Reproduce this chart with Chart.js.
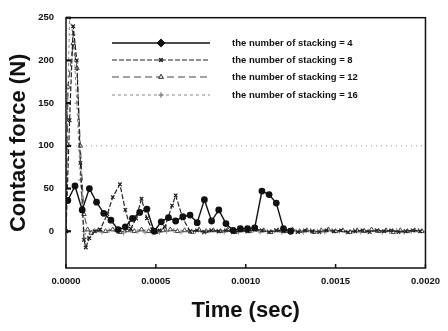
<!DOCTYPE html>
<html>
<head>
<meta charset="utf-8">
<script src="https://cdn.jsdelivr.net/npm/chart.js@4/dist/chart.umd.min.js"></script>
<style>
  html, body { margin: 0; padding: 0; background: #fff; }
  #wrap { width: 448px; height: 331px; }
</style>
</head>
<body>
<div id="wrap"><canvas id="force-chart" width="448" height="331"></canvas></div>
<script>
// data (time in s, force in N)
const stackLabels = [
  'the number of stacking = 4',
  'the number of stacking = 8',
  'the number of stacking = 12',
  'the number of stacking = 16',
];
const yTickValues = [0, 50, 100, 150, 200, 250];
const xTickValues = [0, 0.0005, 0.001, 0.0015, 0.002];

const time4 = [0.00001, 0.00005, 0.00009, 0.00013, 0.00017, 0.00021, 0.00025, 0.00029, 0.00033, 0.00037,
  0.00041, 0.00045, 0.00049, 0.00053, 0.00057, 0.00061, 0.00065, 0.00069, 0.00073, 0.00077,
  0.00081, 0.00085, 0.00089, 0.00093, 0.00097, 0.00101, 0.00105, 0.00109, 0.00113, 0.00117,
  0.00121, 0.00125];
const force4 = [36, 53, 25, 50, 34, 21, 13, 2, 5, 15,
  22, 26, 0, 11, 16, 12, 17, 19, 10, 37,
  12, 25, 9, 1, 3, 3, 4, 47, 43, 33,
  3, 0];

const time8 = [0, 0.00002, 0.00004, 0.00006, 0.00008, 0.0001, 0.00011, 0.00013, 0.00016, 0.00019,
  0.00023, 0.00026, 0.0003, 0.00033, 0.00036, 0.00039, 0.00042, 0.00045, 0.00048, 0.00052,
  0.00055, 0.00059, 0.00061, 0.00065, 0.00069, 0.00073, 0.00077, 0.00081, 0.00085, 0.00089,
  0.00093, 0.00097, 0.00101, 0.00105, 0.00109, 0.00113, 0.00117, 0.00121, 0.00125, 0.00129,
  0.00133, 0.00137, 0.00141, 0.00145, 0.00149, 0.00153, 0.00157, 0.00161, 0.00165, 0.00169,
  0.00173, 0.00177, 0.00181, 0.00185, 0.00189, 0.00193, 0.00197];
const force8 = [0, 130, 240, 200, 80, -10, -19, -8, 0, 2,
  20, 40, 55, 25, 3, 15, 38, 15, 2, 1,
  5, 30, 42, 15, 0, 1, -1, 1, 0, 1,
  -1, 1, 0, 2, 1, -1, 1, 0, 1, -1,
  1, 0, -1, 1, 0, 1, -1, 0, 1, -1,
  1, 0, 1, -1, 0, 1, 0];

const time12 = [0, 0.000011, 0.00004, 0.000061, 0.00008, 0.0001, 0.00012, 0.00014, 0.00018, 0.00022,
  0.00026, 0.0003, 0.00034, 0.00038, 0.00042, 0.00046, 0.0005, 0.00054, 0.00058, 0.00062,
  0.00066, 0.0007, 0.00074, 0.00078, 0.00082, 0.00086, 0.0009, 0.00094, 0.00098, 0.00102,
  0.00106, 0.0011, 0.00114, 0.00118, 0.00122, 0.00126, 0.0013, 0.00134, 0.00138, 0.00142,
  0.00146, 0.0015, 0.00154, 0.00158, 0.00162, 0.00166, 0.0017, 0.00174, 0.00178, 0.00182,
  0.00186, 0.0019, 0.00194, 0.00198];
const force12 = [0, 169, 220, 191, 100, 20, 2, -2, 1, 0,
  2, -1, 1, 0, 2, 0, -1, 1, 2, 0,
  1, -1, 2, 0, 1, 0, 2, -1, 1, 0,
  2, 1, -1, 1, 0, 2, 0, 1, -1, 1,
  2, 0, 1, -1, 1, 0, 2, 0, 1, -1,
  1, 0, 1, 0];

const time16 = [0, 0.00002, 0.00004, 0.00006, 0.00008, 0.0001, 0.00012, 0.00014, 0.00016, 0.0002,
  0.00024, 0.00028, 0.00032, 0.00036, 0.0004, 0.00044, 0.00048, 0.00052, 0.00056, 0.0006,
  0.00064, 0.00068, 0.00072, 0.00076, 0.0008, 0.00084, 0.00088, 0.00092, 0.00096, 0.001,
  0.00104, 0.00108, 0.00112, 0.00116, 0.0012, 0.00124, 0.00128, 0.00132, 0.00136, 0.0014,
  0.00144, 0.00148, 0.00152, 0.00156, 0.0016, 0.00164, 0.00168, 0.00172, 0.00176, 0.0018,
  0.00184, 0.00188, 0.00192, 0.00196, 0.002];
const force16 = [60, 250, 230, 150, 60, 0, -8, -2, 1, -1,
  1, 0, -2, 1, 0, -1, 1, -1, 0, 1,
  -1, 1, 0, -1, 1, 0, -1, 1, -1, 0,
  1, -1, 0, 1, -1, 1, 0, -1, 1, 0,
  -1, 1, 0, -1, 1, -1, 0, 1, -1, 0,
  1, -1, 0, 1, 0];

const FONT = '"Liberation Sans", Arial, sans-serif';

const toPoints = (xs, ys) => xs.map((x, i) => ({ x: x, y: ys[i] }));

const datasets = [
  {
    label: stackLabels[0],
    data: toPoints(time4, force4),
    borderColor: '#111', backgroundColor: '#111',
    borderWidth: 1.4, pointStyle: 'circle', pointRadius: 2.7,
  },
  {
    label: stackLabels[1],
    data: toPoints(time8, force8),
    borderColor: '#222', backgroundColor: '#222',
    borderWidth: 1.2, borderDash: [5, 2], pointStyle: 'crossRot', pointRadius: 2.5,
  },
  {
    label: stackLabels[2],
    data: toPoints(time12, force12),
    borderColor: '#444', backgroundColor: '#fff',
    borderWidth: 1, borderDash: [7, 4], pointStyle: 'triangle', pointRadius: 2.6,
  },
  {
    label: stackLabels[3],
    data: toPoints(time16, force16),
    borderColor: '#888', backgroundColor: '#888',
    borderWidth: 1, borderDash: [3, 3], pointStyle: 'cross', pointRadius: 2.5,
  },
];

// frame, inward tick marks, dotted line at 100 and the legend
const decorations = {
  id: 'decorations',
  beforeDatasetsDraw(chart) {
    const { ctx, chartArea: a, scales } = chart;
    const y100 = scales.y.getPixelForValue(100);
    ctx.save();
    ctx.strokeStyle = '#999';
    ctx.lineWidth = 1;
    ctx.setLineDash([1, 4]);
    ctx.beginPath();
    ctx.moveTo(a.left, y100);
    ctx.lineTo(a.right, y100);
    ctx.stroke();
    ctx.restore();
  },
  afterDatasetsDraw(chart) {
    const { ctx, chartArea: a, scales } = chart;
    ctx.save();
    ctx.strokeStyle = '#111';
    ctx.lineWidth = 1.5;
    ctx.strokeRect(a.left, a.top, a.right - a.left, a.bottom - a.top);

    ctx.lineWidth = 2.2;
    yTickValues.forEach(v => {
      const py = scales.y.getPixelForValue(v);
      ctx.beginPath();
      ctx.moveTo(a.left, py);
      ctx.lineTo(a.left + 5, py);
      ctx.stroke();
    });
    ctx.lineWidth = 1.5;
    xTickValues.forEach(v => {
      const px = scales.x.getPixelForValue(v);
      ctx.beginPath();
      ctx.moveTo(px, a.bottom);
      ctx.lineTo(px, a.bottom - 4);
      ctx.stroke();
    });

    // legend
    const rows = [43, 60, 77, 95];
    chart.data.datasets.forEach((ds, i) => {
      const y = rows[i];
      ctx.strokeStyle = ds.borderColor;
      ctx.lineWidth = ds.borderWidth;
      ctx.setLineDash(ds.borderDash || []);
      ctx.beginPath();
      ctx.moveTo(112, y);
      ctx.lineTo(210, y);
      ctx.stroke();
      ctx.setLineDash([]);
      Chart.helpers.drawPoint(ctx, {
        pointStyle: i === 0 ? 'rectRot' : ds.pointStyle,
        radius: i === 0 ? 3.3 : ds.pointRadius,
        borderWidth: 1,
      }, 161, y);
      ctx.fillStyle = ds.backgroundColor;
      ctx.fill();
      ctx.strokeStyle = ds.borderColor;
      ctx.stroke();
      ctx.fillStyle = '#111';
      ctx.font = 'bold 9.5px ' + FONT;
      ctx.textBaseline = 'middle';
      ctx.textAlign = 'left';
      ctx.fillText(ds.label, 232, y);
    });
    ctx.restore();
  },
};

new Chart(document.getElementById('force-chart'), {
  type: 'line',
  data: { datasets },
  options: {
    responsive: false,
    animation: false,
    layout: { padding: { left: 0, right: 20, top: 8, bottom: 0 } },
    plugins: { legend: { display: false }, tooltip: { enabled: false } },
    elements: { line: { tension: 0 } },
    scales: {
      x: {
        type: 'linear', min: 0, max: 0.002,
        afterBuildTicks: s => { s.ticks = xTickValues.map(v => ({ value: v })); },
        afterFit: s => { s.height = 63; },
        grid: { display: false, drawTicks: false },
        border: { display: false },
        ticks: {
          font: { family: FONT, weight: 'bold', size: 9.5 }, color: '#111', padding: 8,
          maxRotation: 0, callback: v => v.toFixed(4),
        },
        title: {
          display: true, text: 'Time (sec)', color: '#111',
          font: { family: FONT, weight: 'bold', size: 22 }, padding: { top: 0, bottom: 7 },
        },
      },
      y: {
        type: 'linear', min: -43, max: 250,
        afterBuildTicks: s => { s.ticks = yTickValues.map(v => ({ value: v })); },
        afterFit: s => { s.width = 66; },
        grid: { display: false, drawTicks: false },
        border: { display: false },
        ticks: { font: { family: FONT, weight: 'bold', size: 9.5 }, color: '#111', padding: 12 },
        title: {
          display: true, text: 'Contact force (N)', color: '#111',
          font: { family: FONT, weight: 'bold', size: 22 }, padding: { top: 6, bottom: 0 },
        },
      },
    },
  },
  plugins: [decorations],
});
</script>
</body>
</html>
